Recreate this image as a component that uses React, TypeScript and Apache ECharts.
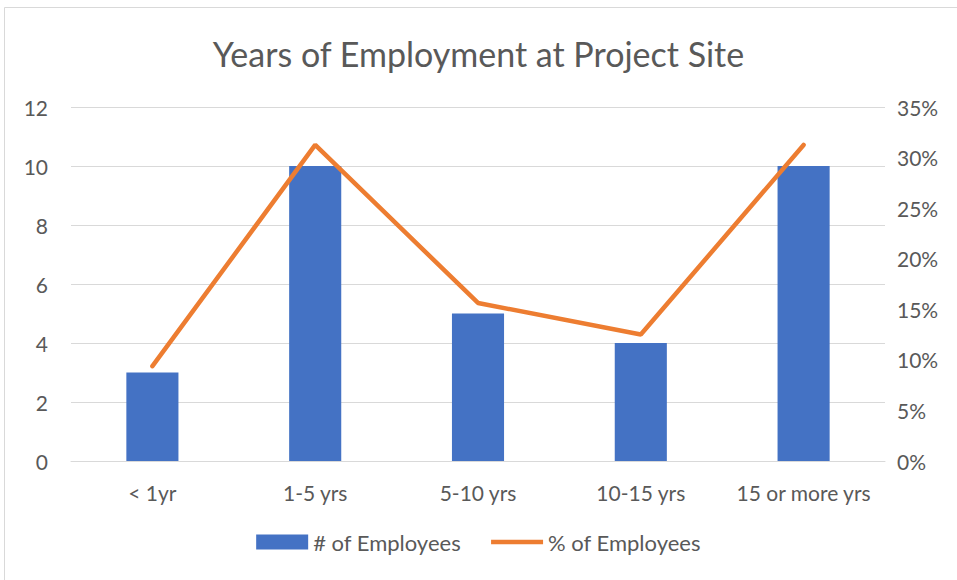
import React, { useEffect, useRef } from "react";
import * as echarts from "echarts";

const categories = ["< 1yr", "1-5 yrs", "5-10 yrs", "10-15 yrs", "15 or more yrs"];
const employeeCounts = [3, 10, 5, 4, 10];
const employeePercents = [9.375, 31.25, 15.625, 12.5, 31.25];
const leftTicks = { min: 0, max: 12, interval: 2 };
const rightTicks = { min: 0, max: 35, interval: 5 };

const FONT = "Lato, 'Open Sans', sans-serif";

export default function App() {
  const ref = useRef<HTMLDivElement>(null);
  useEffect(() => {
    if (!ref.current) return;
    const chart = echarts.init(ref.current, null, { renderer: "svg" });
    chart.setOption({
      animation: false,
      backgroundColor: "#ffffff",
      textStyle: { fontFamily: FONT },
      title: {
        text: "Years of Employment at Project Site",
        left: "center",
        top: 31,
        textStyle: { fontFamily: FONT, fontSize: 34, fontWeight: "normal", color: "#595959" },
      },
      graphic: [
        {
          type: "rect",
          shape: { x: 4.5, y: 7.5, width: 960, height: 590 },
          style: { fill: "none", stroke: "#d9d9d9", lineWidth: 1 },
          silent: true,
        },
      ],
      legend: {
        bottom: 22,
        left: "center",
        itemGap: 30,
        textStyle: { fontFamily: FONT, fontSize: 22, color: "#595959" },
        symbolKeepAspect: true,
        data: [
          { name: "# of Employees", icon: "rect", itemStyle: { color: "#4472c4" } },
          {
            name: "% of Employees",
            icon: "path://M0,0 L60,0 L60,5 L0,5 Z",
            itemStyle: { color: "#ed7d31" },
          },
        ],
        itemWidth: 52,
        itemHeight: 15,
      },
      grid: { left: 71, right: 72, top: 107, bottom: 119 },
      xAxis: {
        type: "category",
        data: categories,
        axisLine: { lineStyle: { color: "#d9d9d9", width: 1 } },
        axisTick: { show: false },
        axisLabel: {
          fontFamily: FONT,
          fontSize: 21,
          color: "#595959",
          margin: 21,
          interval: 0,
          hideOverlap: false,
        },
      },
      yAxis: [
        {
          type: "value",
          min: leftTicks.min,
          max: leftTicks.max,
          interval: leftTicks.interval,
          axisLine: { show: false },
          axisTick: { show: false },
          splitLine: { lineStyle: { color: "#d9d9d9", width: 1 } },
          axisLabel: { fontFamily: FONT, fontSize: 21, color: "#595959", margin: 23 },
        },
        {
          type: "value",
          min: rightTicks.min,
          max: rightTicks.max,
          interval: rightTicks.interval,
          axisLine: { show: false },
          axisTick: { show: false },
          splitLine: { show: false },
          axisLabel: {
            fontFamily: FONT,
            fontSize: 21,
            color: "#595959",
            margin: 12,
            formatter: (v: number) => `${v}%`,
          },
        },
      ],
      series: [
        {
          name: "# of Employees",
          type: "bar",
          data: employeeCounts,
          yAxisIndex: 0,
          barWidth: "32%",
          itemStyle: { color: "#4472c4" },
        },
        {
          name: "% of Employees",
          type: "line",
          data: employeePercents,
          yAxisIndex: 1,
          showSymbol: false,
          symbol: "none",
          lineStyle: { color: "#ed7d31", width: 4.5, cap: "round" },
          itemStyle: { color: "#ed7d31" },
        },
      ],
    });
    return () => chart.dispose();
  }, []);
  return (
    <div
      ref={ref}
      style={{ position: "fixed", left: 0, top: 0, width: 957, height: 580 }}
    />
  );
}
